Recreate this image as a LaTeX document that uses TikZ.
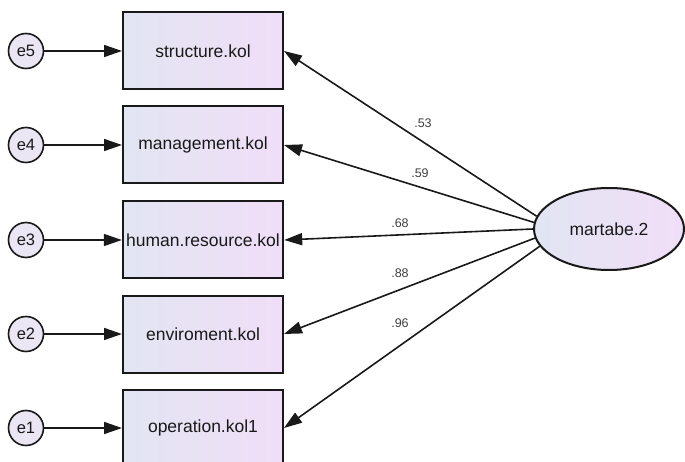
\documentclass[tikz,border=0pt]{standalone}
\usepackage{fontspec}
\setmainfont{Liberation Sans}
\usetikzlibrary{arrows.meta}
\usetikzlibrary{shapes.geometric}

\definecolor{boxleft}{RGB}{226,229,242}
\definecolor{boxright}{RGB}{240,222,248}
\definecolor{errfill}{RGB}{234,230,244}
\definecolor{inkcol}{RGB}{25,25,25}

\begin{document}
\begin{tikzpicture}[x=1pt,y=-1pt,
  obs/.style={draw=inkcol,line width=2pt,minimum width=160pt,minimum height=77pt,
    left color=boxleft,right color=boxright,text=inkcol,font=\fontsize{17.5}{19}\selectfont},
  err/.style={circle,draw=inkcol,line width=1.6pt,fill=errfill,minimum size=35pt,inner sep=0pt,
    text=inkcol,font=\fontsize{16.5}{18}\selectfont},
  lat/.style={ellipse,draw=inkcol,line width=2pt,minimum width=150pt,minimum height=82pt,
    left color=boxleft,right color=boxright,text=inkcol,font=\fontsize{17.5}{19}\selectfont},
  path/.style={draw=inkcol,line width=1.6pt,-{Triangle[length=18pt,width=12pt]}},
  coef/.style={text=black!75,font=\fontsize{12.5}{14}\selectfont}]
 \useasboundingbox (0,0) rectangle (685,462);
 % indicators
 \node[obs] (str) at (203,51) {structure.kol};
 \node[obs] (man) at (203,145) {management.kol};
 \node[obs] (hum) at (203,240) {human.resource.kol};
 \node[obs] (env) at (203,334) {enviroment.kol};
 \node[obs] (ope) at (203,428) {operation.kol1};
 % errors
 \node[err] (e5) at (26,51) {e5};
 \node[err] (e4) at (26,145) {e4};
 \node[err] (e3) at (26,240) {e3};
 \node[err] (e2) at (26,334) {e2};
 \node[err] (e1) at (26,428) {e1};
 \draw[path] (e5) -- (str);
 \draw[path] (e4) -- (man);
 \draw[path] (e3) -- (hum);
 \draw[path] (e2) -- (env);
 \draw[path] (e1) -- (ope);
 % latent
 \node[lat] (mar) at (609,229) {martabe.2};
 \draw[path] (mar.170) -- (str.east);
 \draw[path] (mar.175) -- (man.east);
 \draw[path] (mar.180) -- (hum.east);
 \draw[path] (mar.187) -- (env.east);
 \draw[path] (mar.194) -- (ope.east);
 % loadings
 \node[coef] (l5) at (423,123) {.53};
 \node[coef] (l4) at (420,173) {.59};
 \node[coef] (l3) at (400,223) {.68};
 \node[coef] (l2) at (400,273) {.88};
 \node[coef] (l1) at (400,323) {.96};
\end{tikzpicture}
\end{document}
